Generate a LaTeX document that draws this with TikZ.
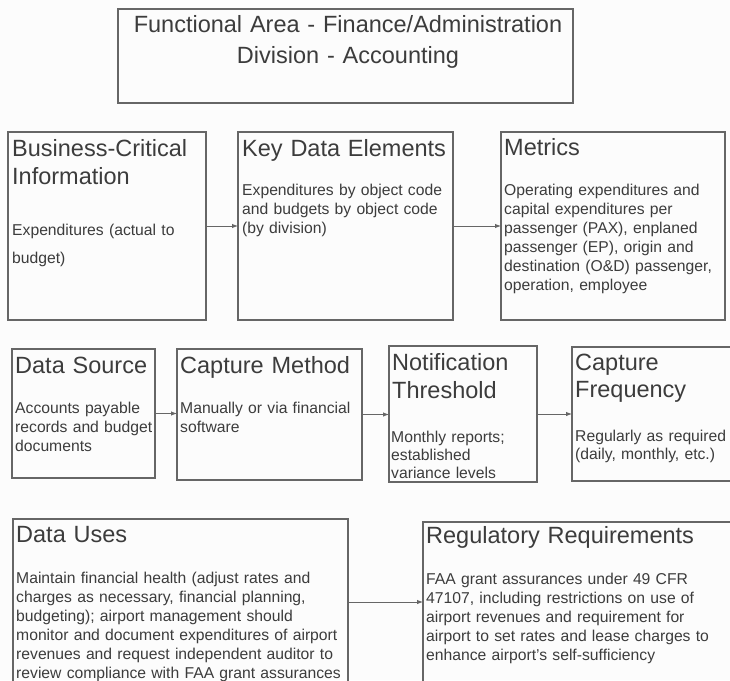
\documentclass[tikz,border=0pt]{standalone}
\usepackage{fontspec}
\setmainfont{Liberation Sans}
\usepackage{xcolor}
\usetikzlibrary{arrows.meta, positioning}
\definecolor{inkgray}{HTML}{3C3C3C}
\definecolor{linegray}{HTML}{666666}
\definecolor{paper}{HTML}{FCFCFC}

\begin{document}
\begin{tikzpicture}[
    x=1pt, y=-1pt,
    panel/.style={rectangle, draw=linegray, line width=1.1pt, anchor=north west, inner sep=0pt, outer sep=0pt},
    heading/.style={anchor=base west, inner sep=0pt, text=inkgray, align=left, font=\fontsize{23.5}{28}\selectfont},
    bodytext/.style={anchor=base west, inner sep=0pt, text=inkgray, align=left, font=\fontsize{15.7}{19}\selectfont},
    flow/.style={-{Latex[length=6pt, width=4.5pt]}, line width=0.9pt, draw=linegray}
]
    \useasboundingbox (0,0) rectangle (730,680);
    \fill[paper] (0,0) rectangle (730,680);
    \clip (0,0) rectangle (730,680);

    % Title
    \node[panel, minimum width=455, minimum height=94] (title) at (118,9) {};
    \node[anchor=base, inner sep=0pt, text=inkgray, align=center, text width=450, font=\fontsize{23.5}{31}\selectfont] (titletext) at (348,32) {Functional Area - Finance/Administration\\Division - Accounting};

    % First row
    \node[panel, minimum width=198, minimum height=188] (bci) at (8,132) {};
    \node[panel, minimum width=215, minimum height=188] (kde) at (238,132) {};
    \node[panel, minimum width=224, minimum height=188] (metrics) at (501,132) {};

    \node[heading, text width=194] (bcihead) at (12,156) {Business-Critical\\Information};
    \node[bodytext, text width=194] (bcibody) at (12,235) {Expenditures (actual to\\[9pt]budget)};
    \node[heading, text width=211] (kdehead) at (242,156) {Key Data Elements};
    \node[bodytext, text width=211] (kdebody) at (242,195) {Expenditures by object code\\and budgets by object code\\(by division)};
    \node[heading, text width=220] (methead) at (504,155) {Metrics};
    \node[bodytext, text width=220] (metbody) at (504,195) {Operating expenditures and\\capital expenditures per\\passenger (PAX), enplaned\\passenger (EP), origin and\\destination (O\&D) passenger,\\operation, employee};

    % Second row
    \node[panel, minimum width=143, minimum height=129] (dsrc) at (12,349) {};
    \node[panel, minimum width=185, minimum height=131] (capm) at (177,349) {};
    \node[panel, minimum width=148, minimum height=136] (notif) at (389,346) {};
    \node[panel, minimum width=170, minimum height=134] (capf) at (572,347) {};

    \node[heading, text width=140] (dsrchead) at (15,373) {Data Source};
    \node[bodytext, text width=140] (dsrcbody) at (15,413) {Accounts payable\\records and budget\\documents};
    \node[heading, text width=180] (capmhead) at (180,373) {Capture Method};
    \node[bodytext, text width=180] (capmbody) at (180,413) {Manually or via financial\\software};
    \node[heading, text width=145] (notifhead) at (392,370) {Notification\\Threshold};
    \node[bodytext, text width=145, font=\fontsize{15.7}{18}\selectfont] (notifbody) at (391,442) {Monthly reports;\\established\\variance levels};
    \node[heading, text width=160, font=\fontsize{23.5}{27}\selectfont] (capfhead) at (575,370) {Capture\\Frequency};
    \node[bodytext, text width=160, font=\fontsize{15.7}{18}\selectfont] (capfbody) at (575,441) {Regularly as required\\(daily, monthly, etc.)};

    % Third row
    \node[panel, minimum width=335, minimum height=166] (uses) at (13,519) {};
    \node[panel, minimum width=330, minimum height=172] (regs) at (423,522) {};

    \node[heading, text width=330] (useshead) at (16,542) {Data Uses};
    \node[bodytext, text width=332] (usesbody) at (16,583) {Maintain financial health (adjust rates and\\charges as necessary, financial planning,\\budgeting); airport management should\\monitor and document expenditures of airport\\revenues and request independent auditor to\\review compliance with FAA grant assurances};
    \node[heading, text width=300] (regshead) at (426,543) {Regulatory Requirements};
    \node[bodytext, text width=300] (regsbody) at (426,584) {FAA grant assurances under 49 CFR\\47107, including restrictions on use of\\airport revenues and requirement for\\airport to set rates and lease charges to\\enhance airport's self-sufficiency};

    % Connections
    \draw[flow] (bci.east) -- (bci.east -| kde.west);
    \draw[flow] (kde.east) -- (kde.east -| metrics.west);
    \draw[flow] (dsrc.east) -- (dsrc.east -| capm.west);
    \draw[flow] (capm.east) -- (capm.east -| notif.west);
    \draw[flow] (notif.east) -- (notif.east -| capf.west);
    \draw[flow] (uses.east) -- (uses.east -| regs.west);

\end{tikzpicture}
\end{document}
